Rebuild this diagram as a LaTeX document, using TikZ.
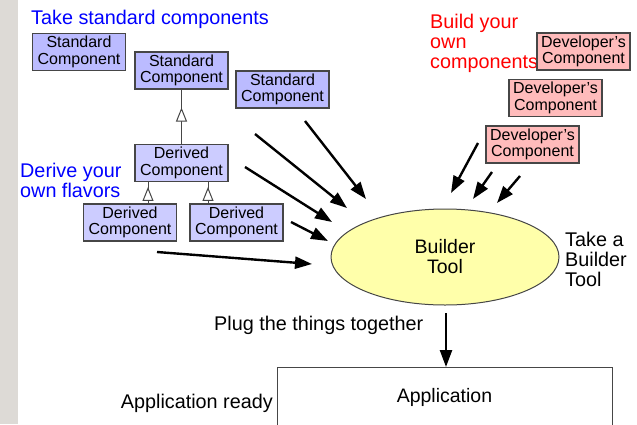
\documentclass[tikz,border=0pt]{standalone}
\usepackage{fontspec}
\setmainfont{Liberation Sans}
\usetikzlibrary{arrows.meta,decorations.markings,shapes.geometric}
\definecolor{stdfill}{RGB}{187,187,255}
\definecolor{derfill}{RGB}{204,204,255}
\definecolor{devfill}{RGB}{255,187,187}
\definecolor{toolfill}{RGB}{255,255,170}
\definecolor{edge}{RGB}{70,70,70}
\definecolor{strip}{RGB}{221,218,214}
\tikzset{
  comp/.style={draw=edge, line width=1.1pt, minimum width=93pt, minimum height=37pt,
    inner sep=0pt, align=center, font=\fontsize{16}{16.5}\selectfont},
  stdbox/.style={comp, fill=stdfill},
  derbox/.style={comp, fill=derfill},
  devbox/.style={comp, fill=devfill},
  note/.style={inner sep=0pt, align=left, font=\fontsize{19.8}{20}\selectfont},
  bigarrow/.style={line width=2.4pt, -{Triangle[length=17pt,width=12pt]}},
  genline/.style={line width=1pt, draw=edge, postaction={decorate, decoration={markings,
    mark=at position #1 with {\arrow{Triangle[open,length=14pt,width=11pt,fill=white]}}}}}
}
\begin{document}
\begin{tikzpicture}[x=1pt,y=-1pt]
\useasboundingbox (0,0) rectangle (637,424);
\fill[white] (0,0) rectangle (637,424);
\fill[strip] (0,0) rectangle (18,424);

% texts
\node[note, text=blue, anchor=west] (t1) at (31,19) {Take standard components};
\node[note, text=blue, anchor=west] (t2) at (20,180) {Derive your\\own flavors};
\node[note, text=red, anchor=west] (t3) at (430,43) {Build your\\own\\components};
\node[note, anchor=west] (t4) at (565,259) {Take a\\Builder\\Tool};
\node[note, anchor=west] (t5) at (214,325) {Plug the things together};
\node[note, anchor=east] (t6) at (273,403) {Application ready};

% standard components
\node[stdbox] (s1) at (79,52) {Standard\\Component};
\node[stdbox] (s2) at (181.5,70.5) {Standard\\Component};
\node[stdbox] (s3) at (282.5,89.5) {Standard\\Component};
\node[derbox] (d0) at (181.5,163) {Derived\\Component};
\node[derbox] (d1) at (130,222.5) {Derived\\Component};
\node[derbox] (d2) at (236.5,222.5) {Derived\\Component};

% developer components
\node[devbox] (p1) at (583.5,51.5) {Developer's\\Component};
\node[devbox] (p2) at (555.5,98) {Developer's\\Component};
\node[devbox] (p3) at (532.5,144.5) {Developer's\\Component};

% builder tool
\node[ellipse, draw=edge, line width=1pt, fill=toolfill, minimum width=228pt, minimum height=96pt,
  inner sep=0pt, align=center, font=\fontsize{19.5}{20}\selectfont] (bt) at (445,257) {Builder\\Tool};

% application
\node[draw=edge, line width=1pt, minimum width=335pt, minimum height=80pt, anchor=north,
  label={[anchor=center, yshift=-30pt, font=\fontsize{19.5}{20}\selectfont]north:Application}] (app) at (444.5,367) {};

% generalisation lines
\draw[genline=0.67] (d0.north) -- (s2.south);
\draw[genline=0.77] ([xshift=18pt]d1.north) -- ([xshift=18pt]d1.north |- d0.south);
\draw[genline=0.77] ([xshift=-28.5pt]d2.north) -- ([xshift=-28.5pt]d2.north |- d0.south);

% big arrows
\coordinate (a1) at (478,143); \coordinate (a2) at (451,193);
\coordinate (b1) at (492,172); \coordinate (b2) at (473,199);
\coordinate (c1) at (520,176); \coordinate (c2) at (497,203);
\coordinate (e1) at (305,121); \coordinate (e2) at (366,199);
\coordinate (f1) at (255,134); \coordinate (f2) at (347,208);
\coordinate (g1) at (245,167); \coordinate (g2) at (332,222);
\coordinate (h1) at (291,222); \coordinate (h2) at (328,241);
\coordinate (i1) at (157,252); \coordinate (i2) at (312,264);
\coordinate (j1) at (446,313);
\draw[bigarrow] (a1) -- (a2);
\draw[bigarrow] (b1) -- (b2);
\draw[bigarrow] (c1) -- (c2);
\draw[bigarrow] (e1) -- (e2);
\draw[bigarrow] (f1) -- (f2);
\draw[bigarrow] (g1) -- (g2);
\draw[bigarrow] (h1) -- (h2);
\draw[bigarrow] (i1) -- (i2);
\draw[bigarrow] (j1) -- (j1 |- app.north);
\end{tikzpicture}
\end{document}
